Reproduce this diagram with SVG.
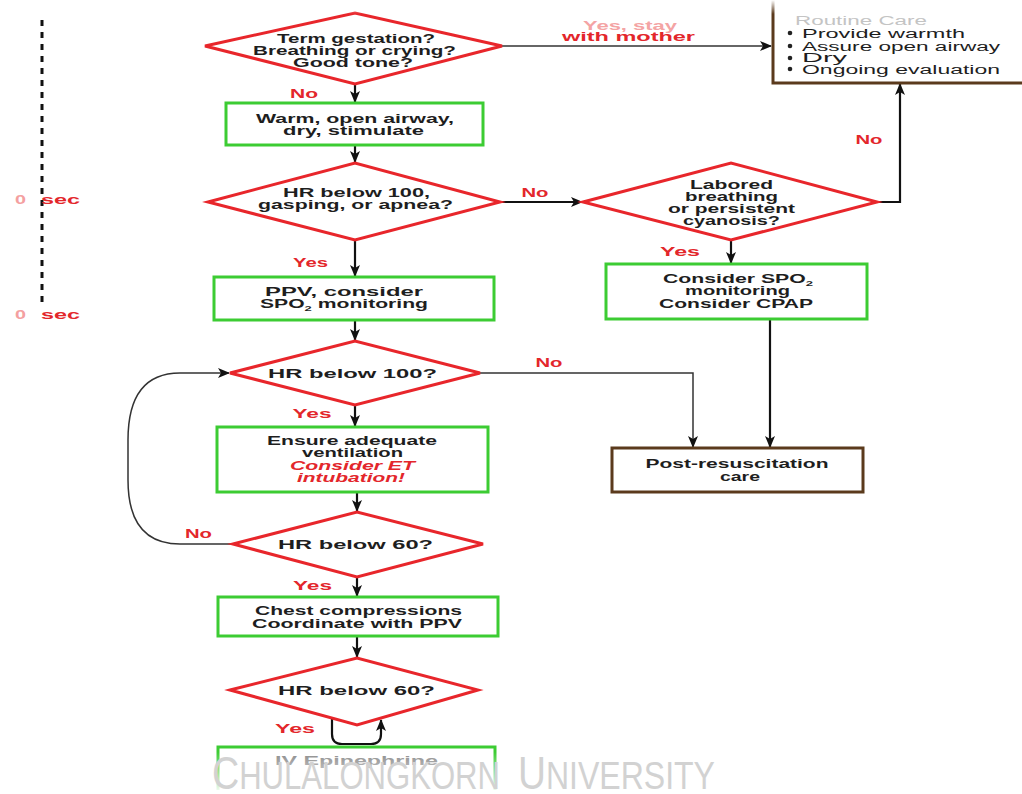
<svg xmlns="http://www.w3.org/2000/svg" width="1022" height="794" viewBox="0 0 1022 794">
<style>
.t{font-family:"Liberation Sans",Arial,sans-serif;font-weight:bold;font-size:13px;fill:#1e1e1e;text-anchor:middle}
.r{fill:#e3262b}
.i{font-style:italic}
.n{font-family:"Liberation Sans",Arial,sans-serif;font-size:12.5px;fill:#1e1e1e}
.dia{fill:#fff;stroke:#e8262b;stroke-width:3;stroke-linejoin:miter}
.box{fill:#fff;stroke:#3ccc33;stroke-width:3}
.brown{fill:none;stroke:#5b3a1c;stroke-width:3}
.c{fill:none;stroke:#111;stroke-width:2.2}
.thin{fill:none;stroke:#333;stroke-width:1.5}
.wm{font-family:"Liberation Sans",Arial,sans-serif;fill:#d2d2d2}
</style>
<defs>
<marker id="ah" markerUnits="userSpaceOnUse" markerWidth="12" markerHeight="10" refX="11" refY="5" orient="auto">
<path d="M0,0 L12,5 L0,10 L3,5 z" fill="#111"/>
</marker>
<linearGradient id="fb" x1="0" y1="0" x2="0" y2="1">
<stop offset="0" stop-color="#fff" stop-opacity="0"/>
<stop offset="1" stop-color="#fff" stop-opacity="1"/>
</linearGradient>
<linearGradient id="ft" x1="0" y1="0" x2="0" y2="1">
<stop offset="0" stop-color="#fff" stop-opacity="1"/>
<stop offset="1" stop-color="#fff" stop-opacity="0"/>
</linearGradient>
</defs>
<rect width="1022" height="794" fill="#fff"/>

<g id="timeline">
<line x1="42" y1="20" x2="42" y2="305" stroke="#111" stroke-width="3" stroke-dasharray="6 6"/>
<text class="t" x="15" y="203.5" textLength="11" lengthAdjust="spacingAndGlyphs" style="fill:#f4a0a0;text-anchor:start">0</text>
<text class="t r" x="41" y="203.5" textLength="39" lengthAdjust="spacingAndGlyphs" style="text-anchor:start">sec</text>
<text class="t" x="15" y="318.5" textLength="11" lengthAdjust="spacingAndGlyphs" style="fill:#f4a0a0;text-anchor:start">0</text>
<text class="t r" x="41" y="318.5" textLength="39" lengthAdjust="spacingAndGlyphs" style="text-anchor:start">sec</text>
</g>

<g id="connectors">
<line class="c" x1="355" y1="84" x2="355" y2="102" marker-end="url(#ah)"/>
<line class="c" x1="355" y1="145" x2="355" y2="162" marker-end="url(#ah)"/>
<line class="c" x1="355" y1="240" x2="355" y2="276" marker-end="url(#ah)"/>
<line class="c" x1="355" y1="320" x2="355" y2="340" marker-end="url(#ah)"/>
<line class="c" x1="355" y1="405" x2="355" y2="426" marker-end="url(#ah)"/>
<line class="c" x1="357" y1="492" x2="357" y2="511" marker-end="url(#ah)"/>
<line class="c" x1="357" y1="577" x2="357" y2="596" marker-end="url(#ah)"/>
<line class="c" x1="357" y1="636" x2="357" y2="657" marker-end="url(#ah)"/>
<path class="c" d="M332,718 V734 Q332,744 342,744 H371 Q381,744 381,734 V720" marker-end="url(#ah)"/>
<line class="thin" x1="502" y1="46" x2="771" y2="46" marker-end="url(#ah)"/>
<line class="c" x1="500" y1="202" x2="582" y2="202" marker-end="url(#ah)"/>
<path class="c" d="M877,202 H900 V84" marker-end="url(#ah)"/>
<line class="c" x1="731" y1="240" x2="731" y2="263" marker-end="url(#ah)"/>
<line class="c" x1="770" y1="319" x2="770" y2="447" marker-end="url(#ah)"/>
<path class="thin" d="M480,373 H693 V447" marker-end="url(#ah)"/>
<path class="thin" d="M233,544 H180 Q128,544 128,480 V440 Q128,373 180,373 H229" marker-end="url(#ah)"/>
<text class="t r" x="304" y="97.5" textLength="28" lengthAdjust="spacingAndGlyphs">No</text>
<text class="t" x="630" y="29.5" textLength="94" lengthAdjust="spacingAndGlyphs" style="fill:#f4a4a4">Yes, stay</text>
<text class="t r" x="628.5" y="40.5" textLength="133" lengthAdjust="spacingAndGlyphs">with mother</text>
<text class="t r" x="310.5" y="266.5" textLength="35" lengthAdjust="spacingAndGlyphs">Yes</text>
<text class="t r" x="535" y="196.5" textLength="27" lengthAdjust="spacingAndGlyphs">No</text>
<text class="t r" x="869" y="144" textLength="27" lengthAdjust="spacingAndGlyphs">No</text>
<text class="t r" x="680" y="255.5" textLength="40" lengthAdjust="spacingAndGlyphs">Yes</text>
<text class="t r" x="549" y="366.5" textLength="27" lengthAdjust="spacingAndGlyphs">No</text>
<text class="t r" x="312" y="417.5" textLength="39" lengthAdjust="spacingAndGlyphs">Yes</text>
<text class="t r" x="198.5" y="537.5" textLength="27" lengthAdjust="spacingAndGlyphs">No</text>
<text class="t r" x="312.5" y="589.5" textLength="39" lengthAdjust="spacingAndGlyphs">Yes</text>
<text class="t r" x="295" y="732.5" textLength="40" lengthAdjust="spacingAndGlyphs">Yes</text>
</g>

<g id="d1">
<polygon class="dia" points="205,46 355,13 502,46 355,84"/>
<text class="t" x="356" y="42.5" textLength="158" lengthAdjust="spacingAndGlyphs">Term gestation?</text>
<text class="t" x="354.5" y="54.5" textLength="203" lengthAdjust="spacingAndGlyphs">Breathing or crying?</text>
<text class="t" x="353" y="66.5" textLength="120" lengthAdjust="spacingAndGlyphs">Good tone?</text>
</g>

<g id="routine">
<path class="brown" d="M773,0 V83 H1022"/>
<text class="n" x="795" y="25" textLength="132" lengthAdjust="spacingAndGlyphs" style="fill:#c4c4c4">Routine Care</text>
<circle cx="790" cy="33" r="2.3" fill="#222"/>
<circle cx="790" cy="46" r="2.3" fill="#222"/>
<circle cx="790" cy="58" r="2.3" fill="#222"/>
<circle cx="790" cy="69" r="2.3" fill="#222"/>
<text class="n" x="802" y="37.5" textLength="163" lengthAdjust="spacingAndGlyphs">Provide warmth</text>
<text class="n" x="802" y="50.5" textLength="198" lengthAdjust="spacingAndGlyphs">Assure open airway</text>
<text class="n" x="802" y="62" textLength="45" lengthAdjust="spacingAndGlyphs">Dry</text>
<text class="n" x="802" y="73.5" textLength="198" lengthAdjust="spacingAndGlyphs">Ongoing evaluation</text>
</g>

<g id="b1">
<rect class="box" x="226" y="103" width="257" height="42"/>
<text class="t" x="355" y="122.5" textLength="198" lengthAdjust="spacingAndGlyphs">Warm, open airway,</text>
<text class="t" x="353.5" y="134.5" textLength="141" lengthAdjust="spacingAndGlyphs">dry, stimulate</text>
</g>

<g id="d2">
<polygon class="dia" points="208,202 355,163 500,202 355,240"/>
<text class="t" x="356.5" y="196.5" textLength="147" lengthAdjust="spacingAndGlyphs">HR below 100,</text>
<text class="t" x="355.5" y="208.5" textLength="195" lengthAdjust="spacingAndGlyphs">gasping, or apnea?</text>
</g>

<g id="d6">
<polygon class="dia" points="583,202 731,163 877,202 731,240"/>
<text class="t" x="731.5" y="188.5" textLength="83" lengthAdjust="spacingAndGlyphs">Labored</text>
<text class="t" x="731.5" y="200.5" textLength="93" lengthAdjust="spacingAndGlyphs">breathing</text>
<text class="t" x="731.5" y="212.5" textLength="127" lengthAdjust="spacingAndGlyphs">or persistent</text>
<text class="t" x="731.5" y="224.5" textLength="97" lengthAdjust="spacingAndGlyphs">cyanosis?</text>
</g>

<g id="b2">
<rect class="box" x="214" y="277" width="280" height="43"/>
<text class="t" x="344" y="295.5" textLength="158" lengthAdjust="spacingAndGlyphs">PPV, consider</text>
<text class="t" x="344" y="307.5" textLength="168" lengthAdjust="spacingAndGlyphs">SPO<tspan font-size="8" dy="3">2</tspan><tspan dy="-3"> monitoring</tspan></text>
</g>

<g id="b6">
<rect class="box" x="606" y="264" width="261" height="55"/>
<text class="t" x="738" y="282.5" textLength="150" lengthAdjust="spacingAndGlyphs">Consider SPO<tspan font-size="8" dy="3">2</tspan></text>
<text class="t" x="737.5" y="294.5" textLength="105" lengthAdjust="spacingAndGlyphs">monitoring</text>
<text class="t" x="736" y="307.5" textLength="154" lengthAdjust="spacingAndGlyphs">Consider CPAP</text>
</g>

<g id="d3">
<polygon class="dia" points="230,373 355,341 480,373 355,405"/>
<text class="t" x="352.5" y="377.5" textLength="169" lengthAdjust="spacingAndGlyphs">HR below 100?</text>
</g>

<g id="post">
<rect x="612" y="448" width="251" height="44" fill="#fff" stroke="#5b3a1c" stroke-width="3"/>
<text class="t" x="737" y="467.5" textLength="183" lengthAdjust="spacingAndGlyphs">Post-resuscitation</text>
<text class="t" x="740" y="480.5" textLength="40" lengthAdjust="spacingAndGlyphs">care</text>
</g>

<g id="b3">
<rect class="box" x="217" y="427" width="271" height="65"/>
<text class="t" x="352" y="444.5" textLength="170" lengthAdjust="spacingAndGlyphs">Ensure adequate</text>
<text class="t" x="352.5" y="456.5" textLength="101" lengthAdjust="spacingAndGlyphs">ventilation</text>
<text class="t r i" x="352.5" y="469.5" textLength="125" lengthAdjust="spacingAndGlyphs">Consider ET</text>
<text class="t r i" x="351" y="481.5" textLength="108" lengthAdjust="spacingAndGlyphs">intubation!</text>
</g>

<g id="d4">
<polygon class="dia" points="233,544 357,512 483,544 357,577"/>
<text class="t" x="355.5" y="548.5" textLength="155" lengthAdjust="spacingAndGlyphs">HR below 60?</text>
</g>

<g id="b4">
<rect class="box" x="218" y="597" width="280" height="39"/>
<text class="t" x="358.5" y="614.5" textLength="207" lengthAdjust="spacingAndGlyphs">Chest compressions</text>
<text class="t" x="357" y="627.5" textLength="210" lengthAdjust="spacingAndGlyphs">Coordinate with PPV</text>
</g>

<g id="d5">
<polygon class="dia" points="230,690 357,658 478,690 357,725"/>
<text class="t" x="356.5" y="694.5" textLength="157" lengthAdjust="spacingAndGlyphs">HR below 60?</text>
</g>

<g id="b5">
<path d="M218,790 V747 H495 V790" fill="none" stroke="#3ccc33" stroke-width="3"/>
<text class="t" x="356.5" y="764.5" textLength="163" lengthAdjust="spacingAndGlyphs" style="fill:#8a8a8a">IV Epinephrine</text>
</g>

<rect x="0" y="752" width="1022" height="42" fill="url(#fb)"/>
<rect x="0" y="0" width="1022" height="14" fill="url(#ft)"/>

<g id="watermark">
<text class="wm" x="212" y="789" font-size="38" textLength="288" lengthAdjust="spacingAndGlyphs"><tspan font-size="46">C</tspan>HULALONGKORN</text>
<text class="wm" x="518" y="789" font-size="38" textLength="197" lengthAdjust="spacingAndGlyphs"><tspan font-size="46">U</tspan>NIVERSITY</text>
</g>
</svg>
